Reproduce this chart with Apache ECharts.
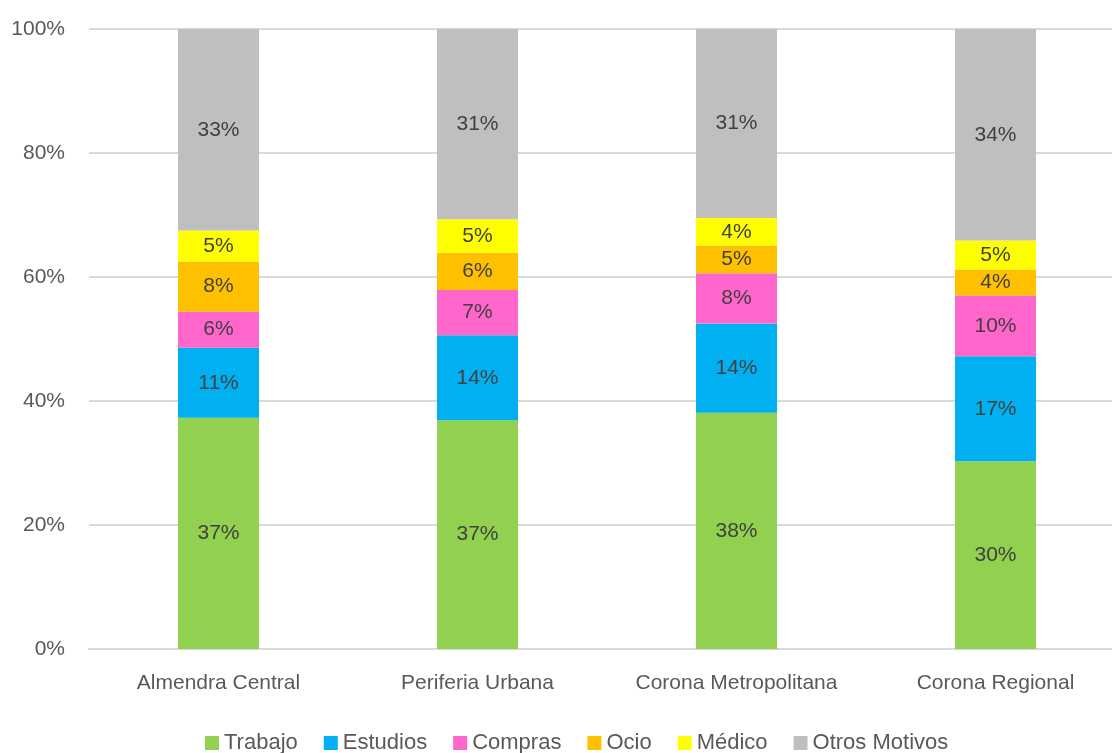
<!DOCTYPE html>
<html>
<head>
<meta charset="utf-8">
<script src="https://cdn.jsdelivr.net/npm/echarts@6/dist/echarts.min.js"></script>
<style>
  html, body { margin: 0; padding: 0; background: #fff; }
  #chart { width: 1112px; height: 753px; }
</style>
</head>
<body>
<div id="chart"></div>
<script>
const categories = ['Almendra Central', 'Periferia Urbana', 'Corona Metropolitana', 'Corona Regional'];
const trabajo = [37.3, 36.9, 38.1, 30.3];
const estudios = [11.3, 13.7, 14.4, 16.9];
const compras = [5.8, 7.3, 8.1, 9.8];
const ocio = [8.1, 6.0, 4.5, 4.2];
const medico = [5.0, 5.4, 4.4, 4.7];
const otros = [32.5, 30.7, 30.5, 34.1];
const yTicks = [0, 20, 40, 60, 80, 100];

const font = '"Liberation Sans Narrow", "Liberation Sans", Arial, sans-serif';

const makeSeries = (name, data, color) => ({
    name: name,
    type: 'bar',
    stack: 'total',
    data: data,
    barWidth: 81,
    itemStyle: { color: color },
    label: {
        show: true,
        position: 'inside',
        color: '#404040',
        fontSize: 21,
        fontFamily: font,
        formatter: p => Math.round(p.value) + '%'
    }
});

const chart = echarts.init(document.getElementById('chart'));
chart.setOption({
    animation: false,
    textStyle: { fontFamily: font },
    grid: { left: 89, top: 29, width: 1036, height: 620, outerBoundsMode: 'none', containLabel: false },
    legend: {
        top: 727,
        left: 200,
        itemWidth: 14,
        itemHeight: 14,
        itemGap: 26,
        icon: 'rect',
        textStyle: { color: '#595959', fontSize: 22, fontFamily: font }
    },
    xAxis: {
        type: 'category',
        data: categories,
        axisTick: { show: false },
        axisLine: { lineStyle: { color: '#d9d9d9', width: 2 } },
        axisLabel: { color: '#595959', fontSize: 21, fontFamily: font, margin: 24, interval: 0 }
    },
    yAxis: {
        type: 'value',
        min: yTicks[0],
        max: yTicks[yTicks.length - 1],
        interval: 20,
        axisLine: { show: false },
        axisTick: { show: false },
        splitLine: { lineStyle: { color: '#d9d9d9', width: 2 } },
        axisLabel: { color: '#595959', fontSize: 21, fontFamily: font, margin: 24, formatter: v => v + '%' }
    },
    series: [
        makeSeries('Trabajo', trabajo, '#92d050'),
        makeSeries('Estudios', estudios, '#00b0f0'),
        makeSeries('Compras', compras, '#ff66cc'),
        makeSeries('Ocio', ocio, '#ffc000'),
        makeSeries('Médico', medico, '#ffff00'),
        makeSeries('Otros Motivos', otros, '#bfbfbf')
    ]
});
</script>
</body>
</html>
